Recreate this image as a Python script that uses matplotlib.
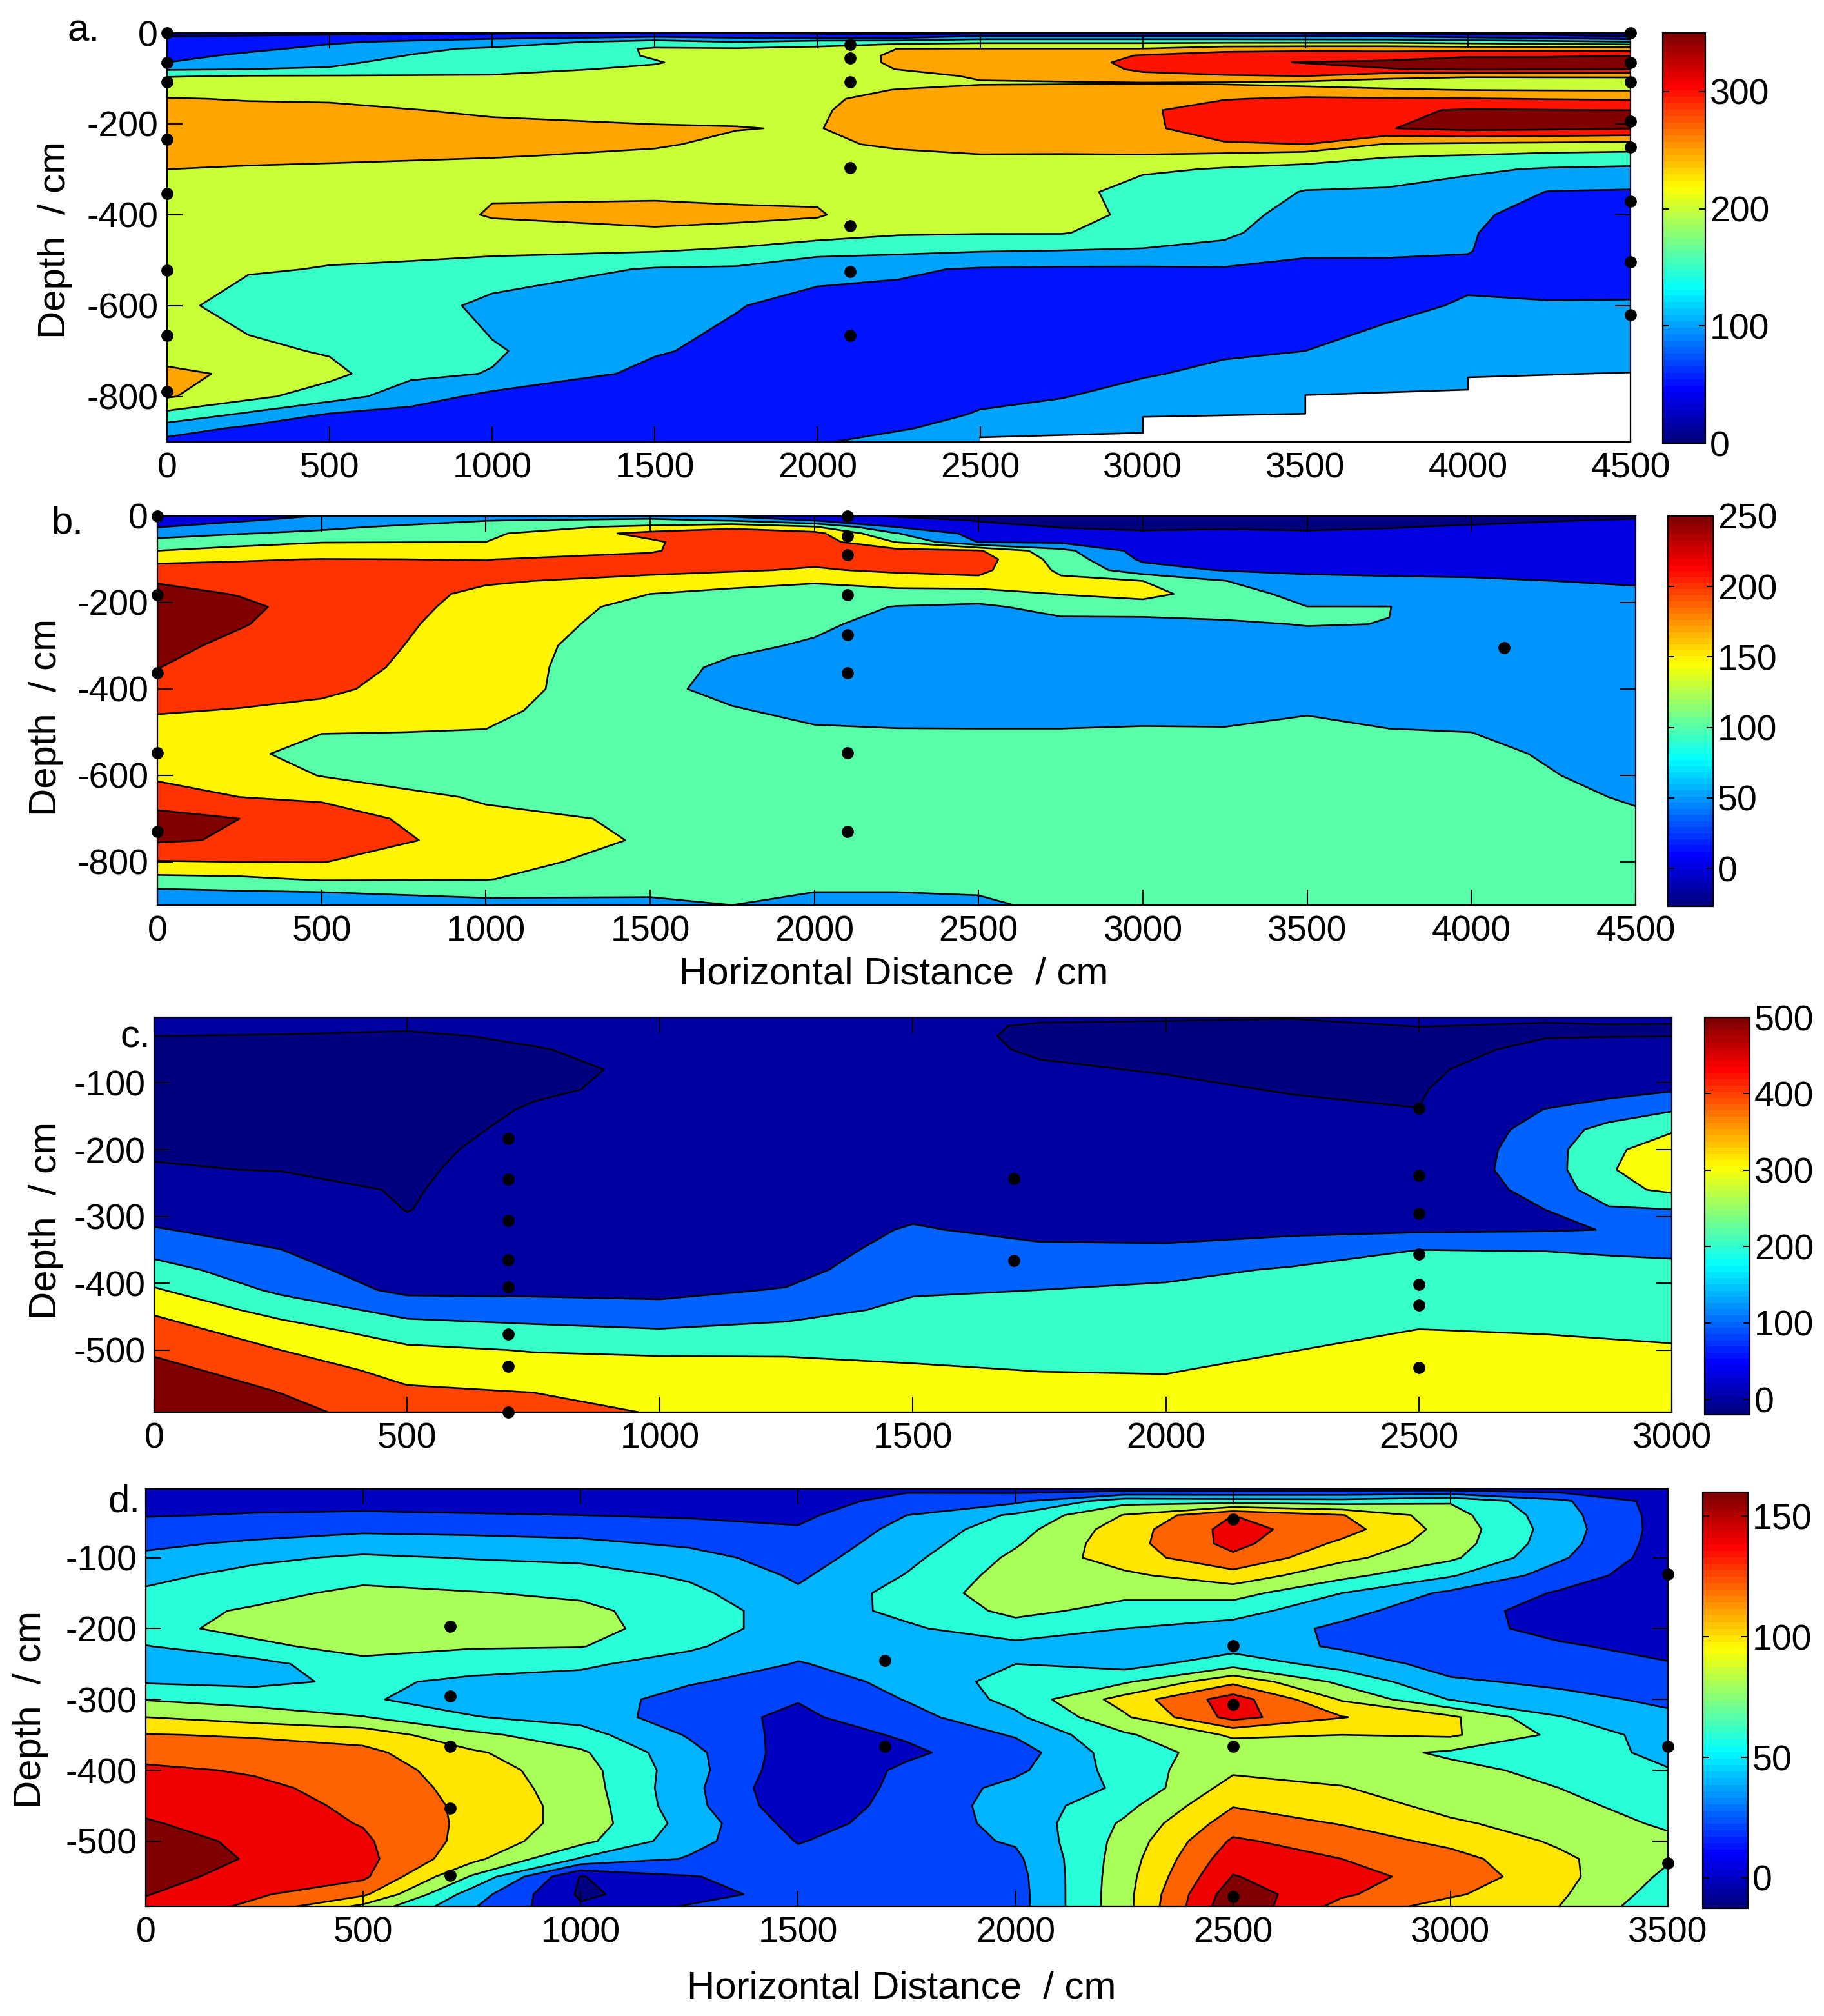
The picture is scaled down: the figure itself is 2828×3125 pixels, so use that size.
import numpy as np
import matplotlib
matplotlib.use('Agg')
import matplotlib.pyplot as plt
from matplotlib.colors import Normalize, LinearSegmentedColormap
from matplotlib.cm import ScalarMappable

plt.rcParams['font.family'] = ['Liberation Sans', 'DejaVu Sans']
plt.rcParams['axes.unicode_minus'] = False

W, H = 2828, 3125

# panel a
a_x = [0, 250, 500, 750, 1000, 1500, 1750, 2000, 2250, 2500, 2750, 3000, 3250, 3500, 3750, 4000, 4250, 4500]
a_depth = [0, -8, -20, -35, -50, -65, -80, -95, -110, -125, -145, -170, -210, -245, -270, -300,
           -350, -400, -440, -480, -520, -600, -700, -750, -800, -840, -870, -900]
a_cols = [
    [30, 50, 60, 75, 87, 100, 145, 197, 218, 235, 252, 262, 278, 272, 262, 250, 232, 226, 222, 215, 210, 215, 225, 262, 255, 185, 125, 85],
    [35, 55, 72, 92, 108, 125, 150, 203, 222, 235, 248, 258, 268, 265, 258, 247, 235, 225, 218, 210, 204, 178, 212, 240, 215, 140, 90, 65],
    [35, 65, 95, 110, 125, 140, 155, 204, 220, 232, 247, 256, 262, 260, 255, 246, 232, 222, 214, 207, 198, 170, 195, 215, 172, 95, 72, 58],
    [38, 75, 108, 140, 152, 165, 180, 203, 216, 228, 240, 251, 260, 258, 254, 243, 232, 222, 214, 206, 195, 175, 165, 160, 125, 80, 70, 60],
    [40, 85, 120, 158, 170, 182, 192, 202, 213, 224, 235, 245, 258, 256, 252, 240, 245, 255, 230, 208, 180, 135, 155, 148, 85, 72, 65, 58],
    [50, 95, 175, 205, 203, 198, 205, 215, 222, 228, 235, 243, 252, 253, 245, 235, 245, 258, 246, 202, 145, 125, 105, 85, 75, 70, 66, 62],
    [48, 85, 150, 205, 212, 215, 218, 222, 226, 230, 235, 242, 251, 244, 238, 232, 240, 258, 240, 190, 142, 103, 85, 75, 70, 65, 62, 58],
    [42, 75, 175, 212, 222, 228, 232, 236, 238, 240, 242, 245, 248, 241, 232, 225, 240, 255, 225, 165, 118, 80, 80, 84, 88, 91, 94, 98],
    [40, 70, 180, 251, 258, 256, 251, 235, 240, 251, 265, 272, 275, 258, 240, 228, 218, 212, 206, 160, 107, 82, 80, 84, 86, 90, 98, 108],
    [40, 110, 190, 252, 265, 270, 265, 255, 247, 258, 270, 278, 280, 265, 248, 232, 218, 210, 203, 152, 95, 80, 82, 88, 95, 102, 108, 115],
    [40, 110, 190, 252, 262, 268, 265, 258, 248, 258, 268, 275, 278, 262, 248, 238, 226, 215, 203, 148, 92, 82, 88, 92, 99, 108, 113, 120],
    [40, 110, 190, 252, 305, 320, 310, 285, 248, 265, 285, 292, 290, 270, 248, 210, 170, 190, 178, 145, 92, 85, 92, 98, 108, 115, 120, 125],
    [40, 110, 190, 280, 325, 340, 325, 295, 245, 268, 297, 325, 325, 295, 238, 195, 180, 170, 160, 135, 95, 90, 97, 105, 115, 120, 125, 130],
    [38, 105, 190, 285, 330, 352, 335, 300, 235, 265, 308, 332, 335, 300, 225, 185, 147, 130, 118, 105, 92, 94, 100, 110, 122, 128, 132, 136],
    [35, 100, 190, 285, 325, 360, 348, 265, 228, 255, 305, 340, 348, 246, 205, 170, 145, 128, 115, 103, 95, 95, 108, 120, 130, 135, 138, 140],
    [32, 85, 180, 280, 345, 370, 355, 255, 225, 248, 303, 355, 365, 240, 198, 158, 130, 105, 102, 101, 95, 102, 118, 128, 135, 140, 143, 145],
    [28, 70, 170, 280, 345, 372, 354, 255, 228, 246, 298, 352, 360, 236, 188, 145, 98, 90, 87, 85, 88, 102, 118, 128, 135, 138, 140, 142],
    [25, 48, 155, 280, 350, 375, 353, 255, 230, 245, 295, 350, 352, 232, 183, 140, 95, 85, 82, 80, 85, 103, 118, 128, 135, 138, 140, 142],
]
a_levels = [0, 50, 100, 150, 200, 250, 300, 350]
a_range = (0, 350)
a_pts_x = [0] * 8 + [2100] * 7 + [4500] * 8
a_pts_y = [0, -65, -108, -234, -354, -522, -666, -789,
           -26, -55, -108, -297, -424, -525, -666,
           0, -65, -108, -194, -251, -371, -504, -620]
# no data below this line
nodata_x = [2500, 3000, 3000, 3500, 3500, 4000, 4000, 4500]
nodata_y = [-890, -880, -845, -838, -797, -785, -758, -747]

# panel b
b_x = [0, 250, 500, 1000, 1500, 1750, 2000, 2250, 2500, 2750, 3000, 3250, 3500, 3750, 4000, 4500]
b_depth = [0, -10, -25, -40, -60, -80, -100, -125, -150, -180, -210, -250, -300, -350, -400, -450,
           -500, -550, -600, -650, -700, -750, -800, -840, -870, -900]
b_cols = [
    [20, 32, 48, 75, 120, 150, 188, 218, 247, 262, 270, 270, 262, 251, 228, 203, 185, 175, 190, 227, 265, 256, 197, 135, 88, 70],
    [35, 45, 72, 97, 135, 165, 197, 212, 228, 248, 258, 253, 240, 228, 215, 198, 170, 165, 180, 200, 250, 245, 200, 140, 95, 75],
    [52, 68, 88, 112, 148, 178, 201, 212, 220, 230, 235, 230, 225, 218, 208, 190, 152, 125, 148, 192, 225, 232, 201, 155, 100, 78],
    [65, 98, 130, 140, 150, 175, 199, 210, 204, 192, 185, 180, 175, 172, 170, 162, 148, 125, 125, 142, 165, 178, 172, 152, 112, 85],
    [75, 115, 160, 215, 192, 195, 215, 208, 190, 150, 135, 128, 118, 115, 115, 110, 110, 108, 110, 122, 142, 145, 125, 115, 105, 92],
    [42, 95, 190, 225, 235, 230, 222, 205, 170, 135, 125, 118, 108, 92, 82, 105, 115, 120, 122, 125, 125, 125, 120, 112, 106, 100],
    [25, 48, 155, 215, 225, 220, 212, 195, 155, 130, 118, 108, 95, 80, 72, 85, 108, 115, 118, 118, 118, 116, 112, 106, 100, 90],
    [-5, 25, 48, 102, 148, 215, 225, 208, 175, 130, 98, 85, 78, 72, 70, 78, 105, 112, 112, 112, 112, 110, 107, 103, 100, 92],
    [-15, -3, 15, 32, 48, 205, 222, 212, 188, 125, 92, 80, 75, 70, 68, 75, 105, 110, 110, 110, 110, 108, 106, 103, 101, 97],
    [-20, -12, -2, 15, 42, 115, 130, 142, 158, 152, 115, 88, 75, 68, 65, 75, 105, 110, 112, 112, 112, 110, 108, 106, 105, 104],
    [-22, -15, -6, 5, 18, 30, 42, 70, 150, 168, 125, 82, 72, 66, 64, 80, 108, 113, 115, 115, 115, 113, 112, 110, 109, 108],
    [-22, -15, -3, 6, 16, 26, 36, 47, 101, 120, 115, 95, 78, 70, 68, 85, 105, 112, 115, 116, 116, 115, 114, 112, 111, 110],
    [-22, -16, -5, 4, 14, 24, 34, 45, 58, 85, 100.5, 101.5, 85, 75, 72, 97, 110, 115, 118, 118, 118, 116, 114, 112, 111, 110],
    [-20, -12, -2, 8, 18, 27, 35, 44, 55, 72, 100.8, 99.5, 82, 74, 72, 85, 103, 111, 115, 116, 117, 115, 114, 112, 111, 110],
    [-16, -8, 4, 12, 22, 30, 36, 44, 53, 62, 68, 72, 75, 78, 82, 90, 100, 108, 112, 115, 116, 115, 114, 112, 111, 110],
    [-6, 4, 13, 20, 27, 32, 37, 42, 47, 55, 60, 62, 65, 68, 72, 76, 80, 85, 90, 97, 104, 108, 110, 110, 110, 110],
]
b_levels = [-60, 0, 50, 100, 150, 200, 250]
b_range = (-27, 250)
b_pts_x = [0] * 5 + [2100] * 8 + [4100]
b_pts_y = [0, -182, -362, -548, -730,
           0, -46, -90, -182, -275, -362, -548, -730,
           -305]

# panel c
c_x = [0, 250, 500, 750, 1000, 1250, 1500, 1750, 2000, 2250, 2500, 2750, 2875, 3000]
c_depth = [-2, -15, -30, -50, -80, -110, -140, -170, -200, -230, -260, -290, -320, -350, -380,
           -410, -440, -470, -500, -530, -560, -593]
c_cols = [
    [12, 6, 0, -3, -6, -8, -8, -6, -3, 2, 30, 70, 105, 170, 235, 310, 385, 440, 485, 530, 560, 590],
    [12, 5, -1, -5, -8, -10, -10, -8, -5, -1, 12, 35, 70, 101, 140, 180, 260, 345, 400, 450, 495, 530],
    [14, 3, -3, -7, -10, -12, -12, -10, -7, -5, -3, -1, 8, 20, 40, 75, 165, 245, 320, 370, 410, 450],
    [10, 7, 3, -1, -5, -3, 2, 6, 10, 14, 18, 22, 28, 38, 55, 80, 140, 225, 295, 340, 395, 440],
    [12, 10, 8, 6, 4, 5, 8, 12, 16, 20, 24, 28, 32, 40, 55, 78, 125, 205, 285, 335, 365, 392],
    [10, 8, 8, 7, 8, 10, 14, 18, 22, 26, 30, 35, 42, 52, 70, 105, 165, 225, 285, 330, 355, 375],
    [6, 6, 6, 7, 10, 14, 18, 24, 30, 38, 50, 75, 110, 135, 160, 190, 220, 250, 280, 310, 335, 355],
    [3, -2, -3, -2, 2, 6, 10, 14, 18, 22, 28, 40, 70, 120, 165, 200, 228, 255, 280, 298, 325, 345],
    [2, -3, -5, -4, -1, 3, 7, 10, 14, 20, 28, 40, 70, 115, 175, 215, 240, 260, 280, 295, 320, 340],
    [1, -5, -7, -6, -4, -1, 3, 8, 14, 22, 32, 48, 78, 150, 210, 235, 255, 275, 298, 325, 345, 365],
    [5, 0.5, -6, -8, -8, -5, 0.5, 8, 16, 26, 38, 55, 85, 200, 225, 250, 275, 301, 330, 355, 375, 395],
    [3, -2, -1, 5, 25, 60, 102, 135, 150, 150, 125, 100, 92, 198, 225, 250, 272, 295, 318, 345, 365, 385],
    [4, -1, -0.5, 8, 35, 75, 130, 240, 290, 295, 270, 185, 102, 190, 225, 250, 272, 292, 310, 335, 355, 375],
    [3, -1, -0.5, 12, 50, 90, 190, 295, 325, 335, 320, 198, 170, 180, 225, 250, 272, 290, 305, 330, 350, 365],
]
c_levels = [-40, 0, 100, 200, 300, 400, 500]
c_range = (-20, 500)
c_pts_x = [700] * 8 + [1700] * 2 + [2500] * 7
c_pts_y = [-184, -244, -306, -365, -406, -476, -524, -593,
           -243, -366,
           -138, -239, -296, -356, -402, -433, -526]

# panel d
d_x = [0, 250, 500, 750, 1000, 1250, 1500, 1750, 2000, 2250, 2500, 2750, 3000, 3250, 3500]
d_depth = [-3, -20, -40, -60, -80, -100, -125, -150, -175, -200, -225, -250, -275, -300, -325,
           -350, -375, -400, -425, -450, -475, -500, -525, -550, -575, -592]
d_cols = [
    [8, 14, 19, 27, 36, 44, 55, 63, 74, 76, 59, 53, 58, 79, 100, 121, 132, 144, 150, 155, 162, 170, 172, 168, 161, 155],
    [8, 15, 21, 32, 43, 56, 66, 75, 82, 84, 77, 52, 55, 72, 91, 118, 129, 138, 144, 148, 150, 155, 158, 152, 143, 136],
    [8, 15, 22, 36, 50, 63, 75, 84, 89, 90, 85, 76, 64, 62, 81, 112, 125, 130, 133, 136, 139, 143, 146, 144, 124, 95],
    [8, 14, 21, 35, 47, 59, 71, 81, 87, 88, 82, 68, 56, 52, 61, 85, 103, 110, 113, 115, 115, 113, 106, 78, 50, 42],
    [8, 13, 20, 33, 44, 56, 68, 77, 84, 87, 81, 63, 54, 50, 53, 68, 83, 88, 90, 92, 92, 86, 58, -1, -3, 2],
    [8, 12, 18, 27, 37, 47, 57, 65, 71, 70, 63, 52, 42, 32, 28, 38, 46, 48, 46, 47, 52, 47, 38, 19, 10, 22],
    [5, 9, 15, 22, 27, 31, 37, 43, 49, 50, 45, 39, 30, 21, 16, 12, 9, 6, 2, 5, 12, 19, 25, 28, 30, 32],
    [16, 28, 40, 46, 50, 55, 61, 68, 65, 57, 52, 48, 46, 41, 33, 22, 17, 23, 26, 28, 29, 31, 31, 31, 31, 31],
    [12, 35, 63, 72, 78, 84, 89, 91, 85, 72, 54, 60, 68, 66, 56, 42, 30, 36, 46, 48, 46, 42, 36, 33, 32, 32],
    [10, 72, 101, 110, 112, 110, 96, 84, 74, 60, 49, 52, 77, 108, 97, 77, 72, 68, 63, 74, 83, 87, 90, 92, 93, 93],
    [10, 70, 140, 147, 146, 136, 112, 88, 68, 52, 52, 72, 115, 150, 147, 103, 88, 97, 108, 119, 130, 143, 152, 161, 172, 176],
    [12, 68, 121, 128, 116, 105, 86, 60, 46, 36, 37, 52, 75, 98, 121, 100, 89, 93, 101, 110, 119, 130, 140, 146, 143, 133],
    [12, 78, 88, 92, 90, 84, 62, 36, 28, 26, 28, 32, 43, 59, 104, 103, 77, 85, 89, 94, 103, 115, 127, 133, 123, 112],
    [10, 44, 48, 50, 48, 43, 30, 18, 12, 15, 22, 29, 36, 46, 61, 75, 70, 75, 80, 85, 91, 97, 104, 106, 103, 100],
    [8, 10, 11, 11, 10, 9, 8, 7, 8, 11, 15, 21, 28, 36, 44, 50, 55, 61, 66, 72, 77, 84, 82, 76, 70, 65],
]
d_levels = [-30, 0, 20, 40, 60, 80, 100, 120, 140, 160]
d_range = (-12.6, 160)
d_pts_x = [700] * 5 + [1700] * 2 + [2500] * 5 + [3500] * 3
d_pts_y = [-197, -295, -366, -454, -548,
           -245, -366,
           -46, -224, -307, -366, -578,
           -123, -366, -531]

# matlab's jet, not matplotlib's
jet64 = LinearSegmentedColormap.from_list(
    'mjet',
    [(0, (0, 0, 0.5)), (0.125, (0, 0, 1)), (0.375, (0, 1, 1)), (0.625, (1, 1, 0)), (0.875, (1, 0, 0)), (1, (0.5, 0, 0))],
    N=64,
)


def add_ax(left, right, top, bottom):
    return plt.gcf().add_axes([left / W, 1 - bottom / H, (right - left) / W, (bottom - top) / H])


def panel(box, cbox, x, depth, cols, levels, vrange, pts_x, pts_y, xticks, yticks, xlim, ylim, cticks):
    ax = add_ax(*box)
    Z = np.array(cols, dtype=float).T
    norm = Normalize(*vrange)
    # matlab colours each band from its lower level
    colors = [jet64(norm(max(v, vrange[0]))) for v in levels]
    ax.contourf(x, depth, Z, levels=list(levels) + [1e5], colors=colors, zorder=1)
    ax.contour(x, depth, Z, levels=levels[1:], colors='k', linewidths=1.9, zorder=2)
    ax.plot(pts_x, pts_y, 'o', color='k', ms=13.5, mew=0, clip_on=False, zorder=6)
    ax.set_xlim(*xlim)
    ax.set_ylim(*ylim)
    ax.set_xticks(xticks)
    ax.set_yticks(yticks)
    ax.tick_params(direction='in', length=17, width=1.5, top=True, right=True, labelsize=40)
    ax.tick_params(axis='x', pad=11)
    ax.tick_params(axis='y', pad=10)
    for s in ax.spines.values():
        s.set_linewidth(1.6)
        s.set_zorder(5)

    cax = add_ax(*cbox)
    sm = ScalarMappable(norm=norm, cmap=jet64)
    cb = plt.gcf().colorbar(sm, cax=cax, ticks=cticks)
    cb.outline.set_linewidth(1.6)
    cax.tick_params(direction='in', length=7, width=1.5, left=True, right=True, labelsize=40, pad=5)
    return ax


def label(px, py, s, size=43.2, rot=0, ha='center'):
    plt.gcf().text(px / W, 1 - py / H, s, fontsize=size, rotation=rot, ha=ha, va='center')


fig = plt.figure(figsize=(W / 100, H / 100), dpi=100)

x4500 = list(range(0, 4501, 500))
ax_a = panel((259, 2528, 51, 685), (2578, 2644, 51, 687), a_x, a_depth, a_cols, a_levels, a_range,
             a_pts_x, a_pts_y, x4500, [0, -200, -400, -600, -800], (0, 4500), (-900, 0), [0, 100, 200, 300])
ax_a.fill_between(nodata_x, nodata_y, -900, color='white', zorder=3)
ax_a.plot(nodata_x, nodata_y, color='k', lw=1.9, zorder=3)

panel((244, 2536, 800, 1403), (2586, 2656, 800, 1405), b_x, b_depth, b_cols, b_levels, b_range,
      b_pts_x, b_pts_y, x4500, [0, -200, -400, -600, -800], (0, 4500), (-900, 0), [0, 50, 100, 150, 200, 250])

panel((239, 2592, 1577, 2189), (2643, 2713, 1577, 2193), c_x, c_depth, c_cols, c_levels, c_range,
      c_pts_x, c_pts_y, list(range(0, 3001, 500)), [-100, -200, -300, -400, -500], (0, 3000), (-593, -2),
      [0, 100, 200, 300, 400, 500])

panel((226, 2586, 2308, 2955), (2640, 2710, 2313, 2958), d_x, d_depth, d_cols, d_levels, d_range,
      d_pts_x, d_pts_y, list(range(0, 3501, 500)), [-100, -200, -300, -400, -500], (0, 3500), (-592, -3),
      [0, 50, 100, 150])

label(130, 48, 'a.')
label(104, 811, 'b.')
label(210, 1608, 'c.')
label(192, 2328, 'd.')

label(86, 372, 'Depth  / cm', rot=90)
label(72, 1112, 'Depth  / cm', rot=90)
label(72, 1892, 'Depth  / cm', rot=90)
label(48, 2650, 'Depth  / cm', rot=90)
label(1386, 1510, 'Horizontal Distance  / cm')
label(1398, 3082, 'Horizontal Distance  / cm')

fig.savefig('out.png', dpi=100)
